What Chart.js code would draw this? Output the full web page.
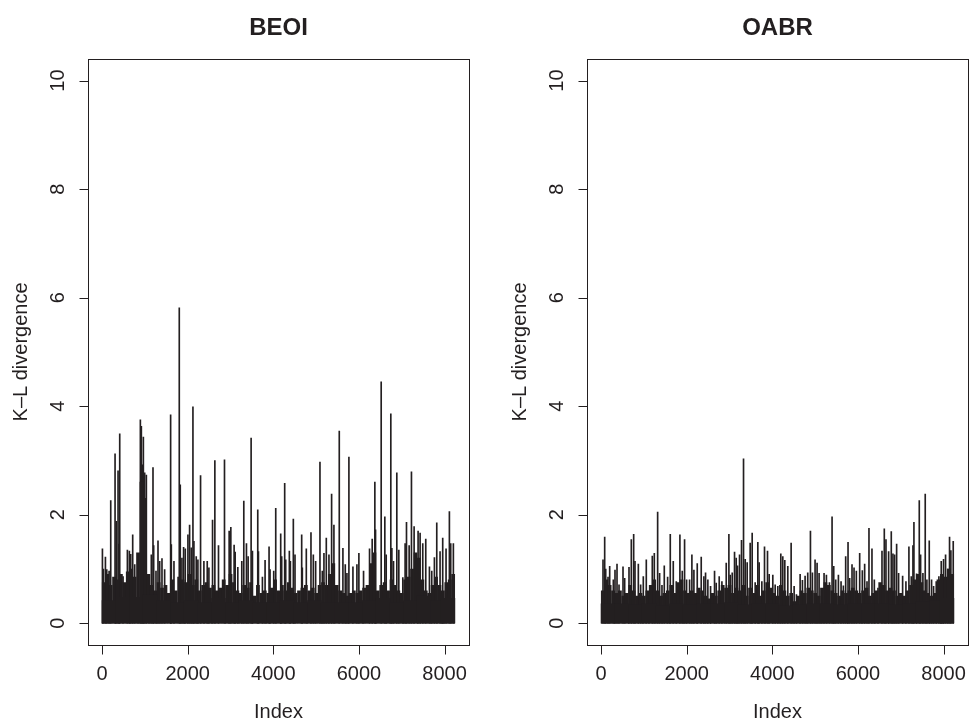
<!DOCTYPE html>
<html><head><meta charset="utf-8">
<script src="https://cdn.jsdelivr.net/npm/chart.js@4.4.1/dist/chart.umd.min.js"></script>
<style>
html,body{margin:0;padding:0;background:#fff;}
#wrap{position:relative;width:969px;height:721px;overflow:hidden;background:#fff;}
.panel{position:absolute;top:0;width:470px;height:721px;}
</style></head><body>
<div id="wrap">
<div class="panel" style="left:0"><canvas id="c1" width="470" height="721"></canvas></div>
<div class="panel" style="left:499px"><canvas id="c2" width="470" height="721"></canvas></div>
</div>
<script>
// ---- tick labels ----
const xTickValues = [0, 2000, 4000, 6000, 8000];
const yTickValues = [0, 2, 4, 6, 8, 10];
const panelTitles = ["BEOI", "OABR"];
const xTitle = "Index";
const yTitle = "K\u2013L divergence";

// ---- base level of the dense mass (index centres) ----
const baseIndex = [160,480,800,1120,1440,1760,2080,2400,2720,3040,3360,3680,4000,4320,4640,4960,5280,5600,5920,6240,6560,6880,7200,7520,7840,8080];
const beoiBase = [0.42,0.48,0.48,0.52,0.42,0.38,0.42,0.38,0.46,0.38,0.42,0.38,0.38,0.42,0.38,0.42,0.38,0.38,0.38,0.42,0.46,0.38,0.42,0.5,0.42,0.46];
const oabrBase = [0.36,0.36,0.34,0.36,0.32,0.36,0.34,0.36,0.36,0.38,0.34,0.36,0.36,0.32,0.34,0.36,0.36,0.34,0.36,0.36,0.36,0.34,0.36,0.4,0.42,0.46];

// ---- typical local maxima of the dense mass ----
const bandIndex = [40,120,200,280,360,440,520,600,680,760,
  840,920,1000,1080,1160,1240,1320,1400,1480,1560,
  1640,1720,1800,1880,1960,2040,2120,2200,2280,2360,
  2440,2520,2600,2680,2760,2840,2920,3000,3080,3160,
  3240,3320,3400,3480,3560,3640,3720,3800,3880,3960,
  4040,4120,4200,4280,4360,4440,4520,4600,4680,4760,
  4840,4920,5000,5080,5160,5240,5320,5400,5480,5560,
  5640,5720,5800,5880,5960,6040,6120,6200,6280,6360,
  6440,6520,6600,6680,6760,6840,6920,7000,7080,7160,
  7240,7320,7400,7480,7560,7640,7720,7800,7880,7960,
  8040,8120,8200];
const beoiBand = [0.75,0.9,0.7,0.85,0.8,0.9,0.75,0.95,1.0,0.85,
  1.3,2.6,2.3,0.9,0.7,0.6,0.75,0.65,0.7,0.55,
  0.8,0.6,0.85,0.8,0.75,0.9,0.7,0.8,0.6,0.7,
  0.75,0.65,0.7,0.6,0.65,0.8,0.7,0.9,0.75,0.6,
  0.55,0.7,0.65,0.75,0.5,0.7,0.55,0.6,0.55,0.65,
  0.8,0.6,0.7,0.6,0.75,0.65,0.55,0.6,0.65,0.7,
  0.6,0.65,0.55,0.7,0.75,0.7,0.9,1.1,0.7,0.6,
  0.55,0.5,0.55,0.6,0.55,0.6,0.65,0.7,1.1,1.3,
  0.6,0.7,0.75,0.6,0.8,0.7,0.6,0.55,0.8,0.85,
  1.0,1.3,1.2,0.8,0.6,0.55,0.7,0.85,0.7,0.6,
  0.75,0.8,0.9];
const oabrBand = [0.6,0.8,0.7,0.6,0.55,0.6,0.5,0.55,0.7,0.6,
  0.5,0.55,0.5,0.6,0.7,0.8,0.6,0.5,0.55,0.6,
  0.7,0.55,0.75,0.8,0.6,0.55,0.6,0.55,0.65,0.6,
  0.5,0.45,0.55,0.5,0.6,0.7,0.65,0.7,0.55,0.65,
  0.6,0.7,0.5,0.65,0.55,0.7,0.5,0.6,0.75,0.65,
  0.55,0.5,0.7,0.6,0.5,0.55,0.4,0.5,0.6,0.55,
  0.65,0.6,0.55,0.5,0.65,0.75,0.7,0.6,0.55,0.5,
  0.6,0.55,0.6,0.65,0.6,0.55,0.6,0.65,0.5,0.55,
  0.6,0.75,0.7,0.6,0.65,0.6,0.5,0.55,0.5,0.6,
  0.7,0.8,0.9,0.75,0.6,0.55,0.5,0.55,0.8,0.9,
  0.85,1.0,0.9];

// ---- individual spikes (index, K-L divergence) ----
const beoiSpikeIndex = [8,31,78,109,164,202,303,334,373,397,412,490,591,637,669,715,762,840,894,917,941,964,995,1034,1096,1150,1189,1205,1259,1306,1345,1399,1461,1601,1617,1679,1803,1826,1865,1904,1943,2005,2044,2083,2122,2145,2199,2238,2300,2378,2456,2495,2580,2634,
  2719,2859,2968,3007,3084,3108,3170,3263,3310,3372,3411,3481,3512,3636,3652,3745,3807,3900,3923,4009,4056,4172,4195,4265,4289,4374,4398,4467,4506,4662,4677,4770,4879,4934,4988,5089,5144,5182,5237,5299,5361,5415,5540,5625,
  5680,5719,5765,5859,5952,5998,6107,6247,6309,6371,6387,6519,6604,6636,6744,6768,6807,6884,6931,7024,7078,7110,7172,7226,7288,7381,7428,7490,7560,7646,7700,7762,7817,7894,7956,8034,8112,8143,8205];
const beoiSpikeValue = [1.37,1.0,1.22,0.99,0.96,2.26,3.12,1.88,2.81,1.46,3.49,0.86,1.35,1.33,1.27,1.63,1.08,0.91,3.75,3.63,2.92,3.43,2.77,2.73,0.86,1.26,2.87,1.43,0.96,1.52,1.14,1.19,0.99,3.84,1.45,1.14,5.81,2.55,1.2,1.4,1.37,1.63,1.81,1.39,3.99,1.51,1.23,1.17,2.72,1.14,1.14,1.02,1.9,3.0,
  1.43,3.01,1.70,1.77,1.44,1.31,1.03,1.14,2.25,1.47,1.23,3.41,1.33,2.09,1.32,0.85,1.16,1.41,0.99,0.96,2.12,1.65,1.23,2.58,1.17,1.33,1.14,1.92,1.26,1.63,1.02,1.37,1.67,1.26,1.14,2.97,0.96,1.29,1.57,1.26,2.38,1.81,3.54,1.38,
  1.08,0.92,3.06,1.04,1.08,1.29,0.96,1.37,1.55,2.60,1.72,4.45,1.96,1.26,3.86,1.38,1.14,2.77,1.35,0.84,1.47,1.86,1.43,2.79,1.78,1.70,1.66,1.47,1.55,1.04,0.96,1.21,1.85,1.32,1.57,1.37,2.06,1.47,1.47];

const oabrSpikeIndex = [45,84,108,162,201,286,325,372,419,512,551,652,706,761,792,870,924,986,1056,1118,1196,1243,1321,1367,1422,1476,1554,1616,1686,1756,1841,1896,1950,1997,2067,2121,2168,2246,2339,2401,2440,2494,2557,2650,2689,
  2759,2822,2923,2985,3016,3063,3117,3156,3187,3234,3280,3327,3366,3412,3482,3529,3599,3661,3692,3755,3817,3887,3926,4011,4066,4128,4198,4244,4291,4361,4439,4509,4563,4649,4703,4765,4827,4890,4936,4998,5045,5092,5154,5208,5263,5333,5395,5434,5480,5543,5605,5659,
  5713,5768,5806,5861,5908,5962,6040,6102,6156,6211,6257,6327,6382,6467,6561,6615,6654,6716,6778,6817,6856,6903,6949,7043,7120,7190,7245,7284,7307,7369,7432,7463,7517,7571,7610,7665,7719,7766,7828,7890,7945,7999,8046,8100,8139,8170,8225];
const oabrSpikeValue = [1.17,1.59,1.0,0.85,1.05,0.8,0.98,1.09,0.71,1.04,0.83,1.03,1.54,1.64,1.14,1.09,0.71,0.86,1.17,0.59,1.24,1.29,2.05,0.92,0.7,1.06,0.85,1.64,1.14,0.77,1.63,0.96,1.54,0.8,0.8,1.26,0.98,1.1,1.22,0.86,0.93,0.8,0.68,0.96,0.74,
  0.86,0.77,1.11,1.64,0.89,0.93,1.31,1.2,1.06,1.26,1.53,3.03,1.18,1.12,1.48,1.66,0.75,1.49,1.12,0.77,1.41,1.33,0.9,0.89,0.71,0.68,1.28,1.23,1.16,1.05,1.48,0.68,0.53,0.9,0.79,0.87,0.93,1.70,0.93,1.17,1.11,0.92,0.59,0.92,0.89,0.75,1.96,1.05,0.8,0.89,0.77,0.69,
  1.23,1.49,0.83,1.08,1.02,0.96,1.29,0.97,1.09,0.77,1.75,1.37,0.8,0.65,1.33,1.74,1.54,1.32,1.69,1.28,1.26,1.46,0.92,0.87,0.77,1.41,0.86,1.43,1.86,0.91,2.26,1.26,0.92,2.38,0.8,1.52,0.8,0.68,0.77,0.86,1.14,1.18,1.26,1.0,1.59,1.34,1.51];

const INK = '#231f20';
const FONT = '"Liberation Sans", Arial, Helvetica, sans-serif';

const rAxes = {
  id: 'rAxes',
  afterDraw(chart) {
    const {ctx, chartArea: a, scales: {x, y}} = chart;
    ctx.save();
    ctx.strokeStyle = INK;
    ctx.lineWidth = 1;
    const L = Math.round(a.left), R = Math.round(a.right), T = Math.round(a.top), B = Math.round(a.bottom);
    ctx.strokeRect(L + 0.5, T + 0.5, R - L, B - T);
    ctx.beginPath();
    const by = B + 0.5;
    ctx.moveTo(Math.round(x.getPixelForValue(xTickValues[0])) + 0.5, by);
    ctx.lineTo(Math.round(x.getPixelForValue(xTickValues[xTickValues.length - 1])) + 0.5, by);
    xTickValues.forEach(v => {
      const px = Math.round(x.getPixelForValue(v)) + 0.5;
      ctx.moveTo(px, by); ctx.lineTo(px, by + 9);
    });
    const lx = L + 0.5;
    ctx.moveTo(lx, Math.round(y.getPixelForValue(yTickValues[0])) + 0.5);
    ctx.lineTo(lx, Math.round(y.getPixelForValue(yTickValues[yTickValues.length - 1])) + 0.5);
    yTickValues.forEach(v => {
      const py = Math.round(y.getPixelForValue(v)) + 0.5;
      ctx.moveTo(lx, py); ctx.lineTo(lx - 9, py);
    });
    ctx.stroke();
    ctx.fillStyle = INK;
    ctx.font = '20px ' + FONT;
    ctx.textAlign = 'center';
    ctx.textBaseline = 'middle';
    xTickValues.forEach(v => ctx.fillText(String(v), x.getPixelForValue(v), 674));
    ctx.fillText(xTitle, (a.left + a.right) / 2, 712);
    yTickValues.forEach(v => {
      ctx.save();
      ctx.translate(58, y.getPixelForValue(v));
      ctx.rotate(-Math.PI / 2);
      ctx.fillText(String(v), 0, 0);
      ctx.restore();
    });
    ctx.save();
    ctx.translate(21, (a.top + a.bottom) / 2);
    ctx.rotate(-Math.PI / 2);
    ctx.fillText(yTitle, 0, 0);
    ctx.restore();
    ctx.restore();
  }
};

function pts(xs, ys) { return xs.map((v, i) => ({x: v, y: ys[i]})); }

function makeChart(id, title, base, band, sIdx, sVal) {
  return new Chart(document.getElementById(id), {
    type: 'bar',
    data: {
      datasets: [
        {label: 'base', data: pts(baseIndex, base), backgroundColor: INK, barThickness: 13.7, grouped: false, borderWidth: 0},
        {label: 'dense', data: pts(bandIndex, band), backgroundColor: INK, barThickness: 3.1, grouped: false, borderWidth: 0},
        {label: 'spikes', data: pts(sIdx, sVal), backgroundColor: INK, barThickness: 1, grouped: false, borderWidth: 0}
      ]
    },
    options: {
      responsive: false,
      animation: false,
      devicePixelRatio: 1,
      layout: {padding: {left: 88, right: 1, top: 0, bottom: 76}},
      plugins: {
        legend: {display: false},
        tooltip: {enabled: false},
        title: {display: true, text: title, color: INK, font: {family: FONT, size: 24, weight: 'bold'}, padding: {top: 14, bottom: 16}}
      },
      scales: {
        x: {type: 'linear', min: -329, max: 8570, offset: false, display: false},
        y: {type: 'linear', min: -0.4, max: 10.4, display: false}
      }
    },
    plugins: [rAxes]
  });
}

makeChart('c1', panelTitles[0], beoiBase, beoiBand, beoiSpikeIndex, beoiSpikeValue);
makeChart('c2', panelTitles[1], oabrBase, oabrBand, oabrSpikeIndex, oabrSpikeValue);
</script>
</body></html>
